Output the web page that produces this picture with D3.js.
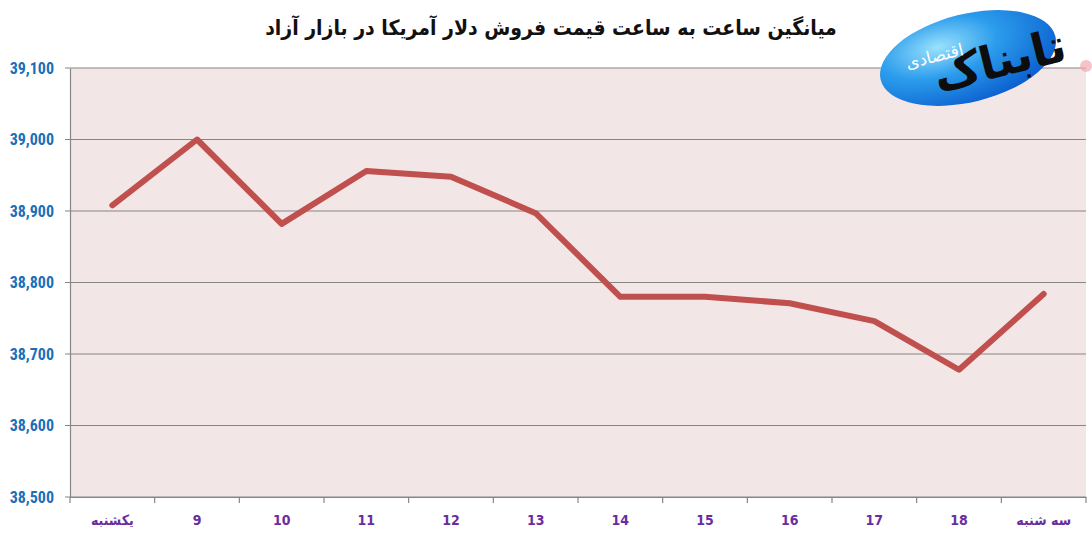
<!DOCTYPE html>
<html>
<head>
<meta charset="utf-8">
<script src="https://cdn.jsdelivr.net/npm/d3@7"></script>
<style>
  body { margin: 0; background: #fff; }
  svg { display: block; }
</style>
</head>
<body>
<svg id="chart" width="1092" height="538"></svg>
<script>
const categories = ["یکشنبه", "9", "10", "11", "12", "13", "14", "15", "16", "17", "18", "سه شنبه"];
const prices = [38908, 39000, 38882, 38956, 38948, 38897, 38780, 38780, 38771, 38746, 38678, 38784];
const yTicks = [38500, 38600, 38700, 38800, 38900, 39000, 39100];
const title = "میانگین ساعت به ساعت قیمت فروش دلار آمریکا در بازار آزاد";

const margin = { top: 68, right: 6, bottom: 41, left: 70 };
const width = 1092 - margin.left - margin.right;
const height = 538 - margin.top - margin.bottom;

const svg = d3.select("#chart");

const g = svg.append("g")
  .attr("transform", `translate(${margin.left},${margin.top})`);

const x = d3.scaleBand()
  .domain(categories)
  .range([0, width]);

const y = d3.scaleLinear()
  .domain([38500, 39100])
  .range([height, 0]);

g.append("rect")
  .attr("width", width)
  .attr("height", height)
  .attr("fill", "#f3e6e7");

// gridlines
g.append("g")
  .selectAll("line")
  .data(yTicks)
  .enter().append("line")
  .attr("x1", -5).attr("x2", width)
  .attr("y1", d => y(d)).attr("y2", d => y(d))
  .attr("stroke", "#868686")
  .attr("stroke-width", 1.2);

// y axis
const yAxis = d3.axisLeft(y).tickValues(yTicks).tickSize(0).tickPadding(16).tickFormat(d3.format(","));
g.append("g")
  .attr("class", "y-axis")
  .call(yAxis)
  .call(s => s.select(".domain").attr("stroke", "#868686").attr("stroke-width", 1.2))
  .selectAll("text")
  .attr("fill", "#1a6fb8")
  .attr("font-family", "'Liberation Sans Narrow', 'Roboto Condensed', 'Open Sans', sans-serif")
  .attr("font-weight", "bold")
  .attr("font-size", 16);

// x axis
const xAxis = d3.axisBottom(x).tickSize(0).tickPadding(18);
const xg = g.append("g")
  .attr("class", "x-axis")
  .attr("transform", `translate(0,${height})`)
  .call(xAxis);
xg.select(".domain").attr("stroke", "#868686").attr("stroke-width", 1.2);
xg.selectAll("text")
  .attr("fill", "#6a2d9e")
  .attr("font-family", "'DejaVu Sans Condensed', 'Liberation Sans', sans-serif")
  .attr("font-weight", "bold")
  .attr("font-size", 14);

// band boundary ticks
const edges = categories.map(c => x(c)).concat([width]);
xg.selectAll("line.edge")
  .data(edges)
  .enter().append("line")
  .attr("class", "edge")
  .attr("x1", d => d).attr("x2", d => d)
  .attr("y1", 0).attr("y2", 6)
  .attr("stroke", "#868686")
  .attr("stroke-width", 1.2);

// line
const line = d3.line()
  .x((d, i) => x(categories[i]) + x.bandwidth() / 2)
  .y(d => y(d));

g.append("path")
  .datum(prices)
  .attr("d", line)
  .attr("fill", "none")
  .attr("stroke", "#c0504d")
  .attr("stroke-width", 6)
  .attr("stroke-linejoin", "round")
  .attr("stroke-linecap", "round");

// title
svg.append("text")
  .attr("x", 551).attr("y", 35)
  .attr("text-anchor", "middle")
  .attr("direction", "rtl")
  .attr("font-family", "'DejaVu Sans Condensed', 'DejaVu Sans', sans-serif")
  .attr("font-weight", "bold")
  .attr("font-size", 21)
  .attr("fill", "#111")
  .text(title);

// logo on top of the plot
const defs = svg.append("defs");
const grad = defs.append("radialGradient")
  .attr("id", "logoGrad")
  .attr("cx", "35%").attr("cy", "30%").attr("r", "75%");
grad.append("stop").attr("offset", "0%").attr("stop-color", "#9ae2fc");
grad.append("stop").attr("offset", "45%").attr("stop-color", "#2b9cec");
grad.append("stop").attr("offset", "100%").attr("stop-color", "#0b5fcf");

const logo = svg.append("g").attr("transform", "translate(968,58) rotate(-14)");
logo.append("ellipse")
  .attr("rx", 90).attr("ry", 44)
  .attr("fill", "url(#logoGrad)");
logo.append("text")
  .attr("x", 30).attr("y", 26)
  .attr("text-anchor", "middle")
  .attr("font-family", "'DejaVu Sans', sans-serif")
  .attr("font-weight", "bold")
  .attr("font-size", 46)
  .attr("fill", "#0d0d0d")
  .text("تابناک");
logo.append("text")
  .attr("x", -32).attr("y", -4)
  .attr("text-anchor", "middle")
  .attr("font-family", "'DejaVu Sans', sans-serif")
  .attr("font-size", 17)
  .attr("fill", "#fff")
  .text("اقتصادی");
svg.append("circle")
  .attr("cx", 1086).attr("cy", 66).attr("r", 6)
  .attr("fill", "#f3a9b0").attr("opacity", 0.7);
</script>
</body>
</html>
